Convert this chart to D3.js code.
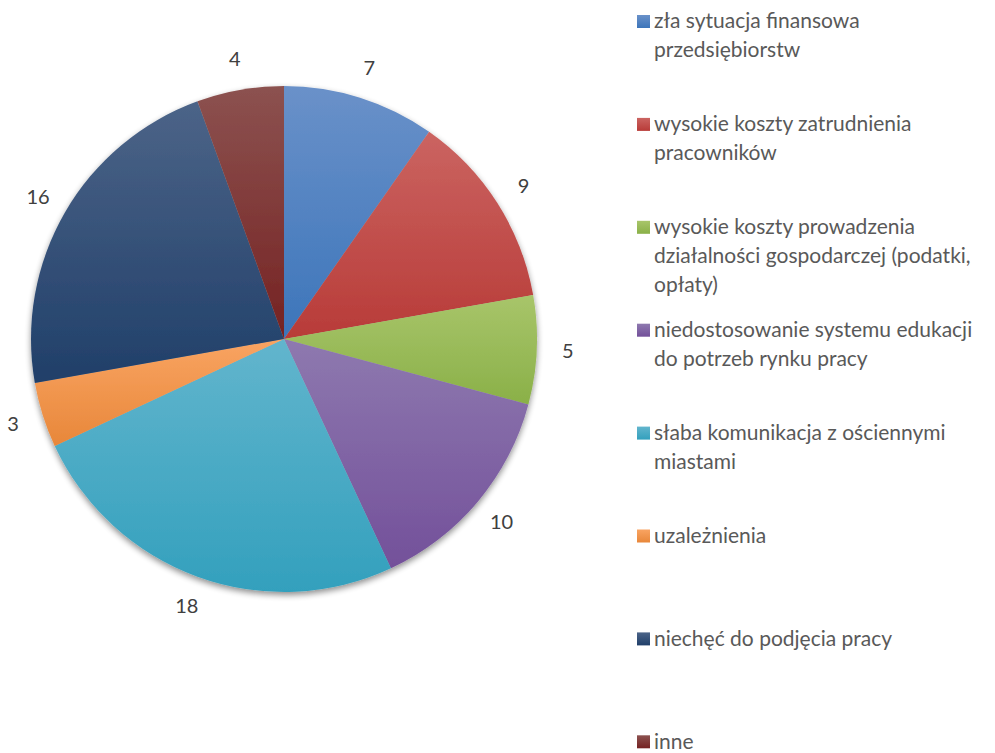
<!DOCTYPE html>
<html>
<head>
<meta charset="utf-8">
<script src="https://cdn.jsdelivr.net/npm/d3@7"></script>
<style>
  html, body { margin: 0; padding: 0; background: #fff; }
  svg { display: block; font-family: Lato, "Open Sans", sans-serif; }
</style>
</head>
<body>
<svg id="chart" width="995" height="753"></svg>
<script>
const categories = [
  "zła sytuacja finansowa przedsiębiorstw",
  "wysokie koszty zatrudnienia pracowników",
  "wysokie koszty prowadzenia działalności gospodarczej (podatki, opłaty)",
  "niedostosowanie systemu edukacji do potrzeb rynku pracy",
  "słaba komunikacja z ościennymi miastami",
  "uzależnienia",
  "niechęć do podjęcia pracy",
  "inne"
];
const values = [7, 9, 5, 10, 18, 3, 16, 4];
const colorsTop = ["#6a91c9", "#cb6461", "#a8c56a", "#8e79af", "#62b5cd", "#f9a462", "#4c6488", "#8c5250"];
const colorsBottom = ["#3c75ba", "#b83b38", "#8ab048", "#73509a", "#33a0bd", "#e8873a", "#203f69", "#752222"];

const svg = d3.select("#chart");
const defs = svg.append("defs");

const cx = 284, cy = 339, R = 253, labelR = 284;

const f = defs.append("filter").attr("id", "shadow")
  .attr("x", "-10%").attr("y", "-10%").attr("width", "120%").attr("height", "120%");
f.append("feGaussianBlur").attr("in", "SourceAlpha").attr("stdDeviation", 3).attr("result", "b");
f.append("feOffset").attr("in", "b").attr("dx", 0).attr("dy", 3).attr("result", "o");
f.append("feComponentTransfer").attr("in", "o").attr("result", "o2")
  .append("feFuncA").attr("type", "linear").attr("slope", 0.45);
const m = f.append("feMerge");
m.append("feMergeNode").attr("in", "o2");
m.append("feMergeNode").attr("in", "SourceGraphic");

categories.forEach((c, i) => {
  const g = defs.append("linearGradient").attr("id", "grad" + i)
    .attr("x1", 0).attr("y1", 0).attr("x2", 0).attr("y2", 1);
  g.append("stop").attr("offset", "0%").attr("stop-color", colorsTop[i]);
  g.append("stop").attr("offset", "100%").attr("stop-color", colorsBottom[i]);
});

const pie = d3.pie().sort(null).value(d => d)(values);
const arc = d3.arc().innerRadius(0).outerRadius(R);
const labelArc = d3.arc().innerRadius(labelR).outerRadius(labelR);

const gPie = svg.append("g").attr("transform", `translate(${cx},${cy})`);
const slices = gPie.append("g").attr("filter", "url(#shadow)");
slices.selectAll("path").data(pie).join("path")
  .attr("d", arc)
  .attr("fill", (d, i) => `url(#grad${i})`);

gPie.selectAll("text").data(pie).join("text")
  .attr("transform", d => `translate(${labelArc.centroid(d)})`)
  .attr("text-anchor", "middle")
  .attr("dy", "0.35em")
  .attr("font-size", 20)
  .attr("fill", "#404040")
  .text(d => d.data);

// Legend
const legendX = 637, legendTop = 21, legendStep = 102.9, lineH = 29, maxW = 330;
const legend = svg.append("g");
categories.forEach((c, i) => {
  const y = legendTop + i * legendStep;
  legend.append("rect")
    .attr("x", legendX).attr("y", y - 6).attr("width", 13).attr("height", 13)
    .attr("fill", `url(#grad${i})`);
  const t = legend.append("text")
    .attr("x", legendX + 17).attr("y", y)
    .attr("font-size", 21)
    .attr("fill", "#595959");
  const words = c.split(" ");
  let line = [];
  let tspan = t.append("tspan").attr("x", legendX + 17).attr("dy", "0.35em");
  words.forEach(w => {
    line.push(w);
    tspan.text(line.join(" "));
    if (tspan.node().getComputedTextLength() > maxW && line.length > 1) {
      line.pop();
      tspan.text(line.join(" "));
      line = [w];
      tspan = t.append("tspan").attr("x", legendX + 17).attr("dy", lineH).text(w);
    }
  });
});
</script>
</body>
</html>
